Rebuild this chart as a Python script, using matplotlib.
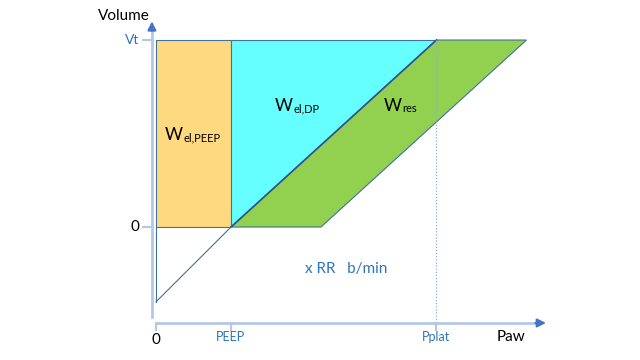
import matplotlib
matplotlib.use("Agg")
import matplotlib.pyplot as plt
from matplotlib.patches import Polygon

# pressure / volume values of the loop (arbitrary units)
peep = 5.0
pplat = 18.7
res_offset = 6.0          # pressure drop added by resistance
vt = 1.0
line_start = -0.4         # where the thin compliance line meets the volume axis

x_tick_labels = ["0", "PEEP", "Pplat"]
x_tick_values = [0.0, peep, pplat]
y_tick_labels = ["0", "Vt"]
y_tick_values = [0.0, vt]

# area labels: subscript and position where W and subscript join
area_subs = ["el,PEEP", "el,DP", "res"]
area_x = [1.8, 9.13, 16.4]
area_y = [0.465, 0.62, 0.62]

blue_txt = "#2E75B6"
axis_col = "#B4C7E7"
arrow_col = "#4472C4"
edge_col = "#41719C"

plt.rcParams["font.family"] = ["Lato", "DejaVu Sans"]

fig = plt.figure(figsize=(6.4, 3.6), dpi=100)
ax = fig.add_axes([0, 0, 1, 1])
ax.set_xlim(-10.4, 32.27)
ax.set_ylim(-0.711, 1.214)
ax.axis("off")

# shaded work areas
ax.add_patch(Polygon([(0, 0), (peep, 0), (peep, vt), (0, vt)], closed=True,
                     facecolor="#FFD97F", edgecolor=edge_col, lw=0.8))
ax.add_patch(Polygon([(peep, 0), (peep, vt), (pplat, vt)], closed=True,
                     facecolor="#66FFFF", edgecolor=edge_col, lw=0.8))
ax.add_patch(Polygon([(peep, 0), (peep + res_offset, 0), (pplat + res_offset, vt), (pplat, vt)],
                     closed=True, facecolor="#92D050", edgecolor=edge_col, lw=0.8))
ax.plot([peep, pplat], [0, vt], color="#2F528F", lw=1.2)

# thin lines below zero
ax.plot([0, peep], [line_start, 0], color=edge_col, lw=0.8)
ax.plot([0, 0], [line_start, 0], color=edge_col, lw=0.8)

# dotted Pplat line
x_axis_y = -0.513
ax.plot([pplat, pplat], [vt, x_axis_y], color="#8FAADC", lw=0.9, ls=(0, (1, 1.5)))

# axes
y_axis_x = -0.27
ax.plot([y_axis_x, y_axis_x], [-0.48, 1.06], color=axis_col, lw=2)
ax.annotate("", xy=(y_axis_x, 1.10), xytext=(y_axis_x, 1.05),
            arrowprops=dict(arrowstyle="-|>,head_length=0.5,head_width=0.25",
                            color=arrow_col, lw=1.5, shrinkA=0, shrinkB=0))
ax.plot([0, 25.4], [x_axis_y, x_axis_y], color=axis_col, lw=2)
ax.annotate("", xy=(26.0, x_axis_y), xytext=(25.3, x_axis_y),
            arrowprops=dict(arrowstyle="-|>,head_length=0.5,head_width=0.25",
                            color=arrow_col, lw=1.5, shrinkA=0, shrinkB=0))

for xv in x_tick_values:
    ax.plot([xv, xv], [x_axis_y, x_axis_y - 0.04], color=axis_col, lw=1.5)
for yv in y_tick_values:
    ax.plot([-0.87, y_axis_x], [yv, yv], color=axis_col, lw=1.5)

# tick labels
ax.text(0, -0.604, x_tick_labels[0], ha="center", va="center", fontsize=11, color="black")
ax.text(peep, -0.59, x_tick_labels[1], ha="center", va="center", fontsize=9, color=blue_txt)
ax.text(pplat, -0.59, x_tick_labels[2], ha="center", va="center", fontsize=9, color=blue_txt)
ax.text(-1.1, 0, y_tick_labels[0], ha="right", va="center", fontsize=11, color="black")
ax.text(-1.1, vt, y_tick_labels[1], ha="right", va="center", fontsize=10, color=blue_txt)

ax.text(-2.17, 1.13, "Volume", ha="center", va="center", fontsize=11, color="black")
ax.text(23.7, -0.59, "Paw", ha="center", va="center", fontsize=11, color="black")
ax.text(9.93, -0.225, "x RR   b/min", ha="left", va="center", fontsize=11, color=blue_txt)

# area labels: big W with small subscript
for sub, xv, yv in zip(area_subs, area_x, area_y):
    ax.text(xv, yv, "W", ha="right", va="baseline", fontsize=12.5, color="black")
    ax.annotate(sub, xy=(xv, yv), xytext=(0.5, -1), textcoords="offset points",
                ha="left", va="baseline", fontsize=8, color="black")

fig.savefig("out.png", dpi=100)
